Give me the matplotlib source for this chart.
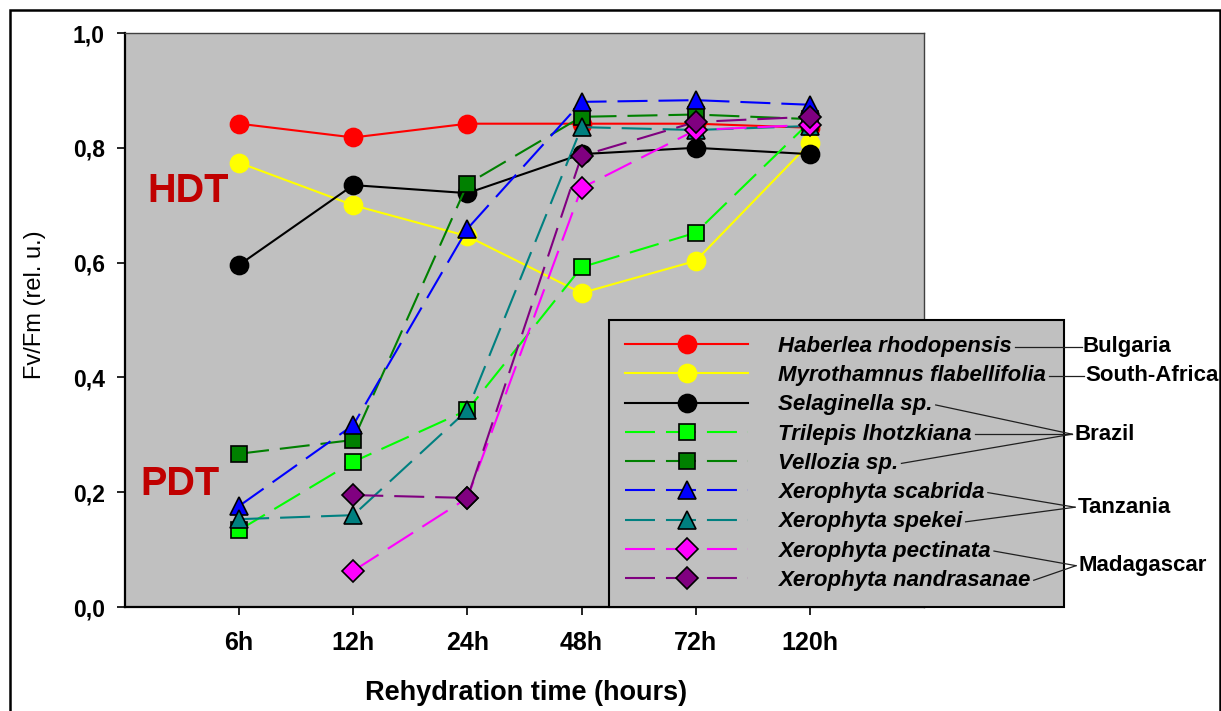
import numpy as np
import matplotlib
matplotlib.use("Agg")
import matplotlib.pyplot as plt
from matplotlib.lines import Line2D
from matplotlib.patches import Rectangle

plt.rcParams['font.family'] = ['Liberation Sans', 'DejaVu Sans']
plt.rcParams['lines.scale_dashes'] = False

# ---------------- data ----------------
times = ["6h", "12h", "24h", "48h", "72h", "120h"]
ytick_values = [0.0, 0.2, 0.4, 0.6, 0.8, 1.0]
ytick_labels = ["0,0", "0,2", "0,4", "0,6", "0,8", "1,0"]

species = ["Haberlea rhodopensis", "Myrothamnus flabellifolia", "Selaginella sp.",
           "Trilepis lhotzkiana", "Vellozia sp.", "Xerophyta scabrida",
           "Xerophyta spekei", "Xerophyta pectinata", "Xerophyta nandrasanae"]

haberlea = [0.842, 0.818, 0.842, 0.842, 0.842, 0.835]
myrothamnus = [0.774, 0.700, 0.646, 0.547, 0.603, 0.808]
selaginella = [0.596, 0.735, 0.721, 0.789, 0.800, 0.789]
trilepis = [0.134, 0.253, 0.343, 0.592, 0.652, 0.845]
vellozia = [0.267, 0.291, 0.737, 0.854, 0.858, 0.850]
scabrida = [0.176, 0.317, 0.659, 0.880, 0.883, 0.875]
spekei = [0.153, 0.160, 0.343, 0.836, 0.831, 0.838]
pectinata = [np.nan, 0.063, 0.190, 0.730, 0.831, 0.840]
nandrasanae = [np.nan, 0.195, 0.190, 0.786, 0.845, 0.854]

countries = ["Bulgaria", "South-Africa", "Brazil", "Tanzania", "Madagascar"]
country_members = [[0], [1], [2, 3, 4], [5, 6], [7, 8]]

series = [haberlea, myrothamnus, selaginella, trilepis, vellozia,
          scabrida, spekei, pectinata, nandrasanae]

# ---------------- styles ----------------
colors = ['#FF0000', '#FFFF00', '#000000', '#00FF00', '#008000',
          '#0000FF', '#008080', '#FF00FF', '#800080']
markers = ['o', 'o', 'o', 's', 's', '^', '^', 'D', 'D']
dashed = [False, False, False, True, True, True, True, True, True]
msize = {'o': 13, 's': 12, '^': 13.5, 'D': 11.5}

W, H = 1221, 711
fig = plt.figure(figsize=(W / 100, H / 100), dpi=100)
fig.patch.set_facecolor('white')

ax_l, ax_r, ax_t, ax_b = 125, 924, 33, 607
ax = fig.add_axes([ax_l / W, 1 - ax_b / H, (ax_r - ax_l) / W, (ax_b - ax_t) / H])
ax.set_facecolor('#C0C0C0')

x = np.arange(1, len(times) + 1)
for name, vals, c, m, d in zip(species, series, colors, markers, dashed):
    ls = (0, (21.6, 7.9)) if d else '-'
    mec = c if m == 'o' else 'black'
    ax.plot(x, vals, color=c, lw=1.5, ls=ls, marker=m, ms=msize[m],
            mfc=c, mec=mec, mew=1.2, label=name, clip_on=False)

ax.set_xlim(0, 7)
ax.set_ylim(0, 1.0)
ax.set_xticks(x)
ax.set_xticklabels(times, fontsize=18, fontweight='bold')
ax.set_yticks(ytick_values)
ax.set_yticklabels(ytick_labels, fontsize=16.5, fontweight='bold')
ax.tick_params(axis='x', direction='out', length=5.5, width=1.2, pad=12)
ax.tick_params(axis='y', direction='out', length=5.5, width=1.2, pad=9)

for s in ['left', 'bottom']:
    ax.spines[s].set_color('black')
    ax.spines[s].set_linewidth(1.6)
for s in ['top', 'right']:
    ax.spines[s].set_color('#404040')
    ax.spines[s].set_linewidth(1.0)

ax.set_xlabel('Rehydration time (hours)', fontsize=19.5, fontweight='bold')
ax.xaxis.set_label_coords((526 - ax_l) / (ax_r - ax_l), -0.127)
ax.set_ylabel('Fv/Fm (rel. u.)', fontsize=17)
ax.yaxis.set_label_coords(-0.099, 0.526)

ax.text(0.0789, 0.7247, 'HDT', transform=ax.transAxes, fontsize=28.5,
        fontweight='bold', color='#C00000', ha='center', va='center')
ax.text(0.0688, 0.2143, 'PDT', transform=ax.transAxes, fontsize=28.5,
        fontweight='bold', color='#C00000', ha='center', va='center')

leg_l, leg_r = 609, 1064
leg = ax.legend(loc='lower left',
                bbox_to_anchor=((leg_l - ax_l) / (ax_r - ax_l), 0.0,
                                (leg_r - leg_l) / (ax_r - ax_l), 0.6),
                mode='expand', borderaxespad=0, numpoints=1,
                prop=dict(style='italic', weight='bold', size=16),
                handlelength=5.54, handletextpad=1.35, borderpad=0.73,
                labelspacing=0.37, frameon=True, fancybox=False,
                edgecolor='black', facecolor='#C0C0C0', framealpha=1)
leg.get_frame().set_linewidth(1.5)

# figure frame
fig.add_artist(Rectangle((10 / W, -0.05), (1220 - 10) / W, 1.05 - 10 / H,
                         transform=fig.transFigure, fill=False,
                         ec='black', lw=1.8))

# connectors to countries
fig.canvas.draw()
r = fig.canvas.get_renderer()
bbs = [t.get_window_extent(r) for t in leg.get_texts()]
fb = leg.get_frame().get_window_extent(r)
right = fb.x1
fw, fh = fig.bbox.width, fig.bbox.height

conv_off = [18, 20, 8, 11, 12]
text_off = [19, 21, 11, 14, 14]
for cname, members, co, to in zip(countries, country_members, conv_off, text_off):
    cys = [(bbs[i].y0 + bbs[i].y1) / 2 for i in members]
    cy = float(np.mean(cys))
    cx = right + co
    for i, yy in zip(members, cys):
        x0 = bbs[i].x1 + 3
        fig.add_artist(Line2D([x0 / fw, cx / fw], [yy / fh, cy / fh],
                              transform=fig.transFigure, color='#202020', lw=0.9))
    fig.text((right + to) / fw, cy / fh, cname, fontsize=16, fontweight='bold',
             ha='left', va='center')

fig.savefig('out.png', dpi=100, facecolor='white')
